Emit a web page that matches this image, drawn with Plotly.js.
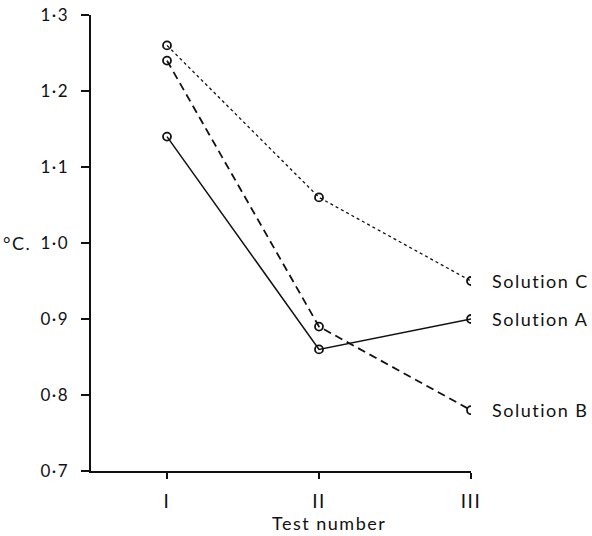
<!DOCTYPE html>
<html>
<head>
<meta charset="utf-8">
<script src="https://cdn.plot.ly/plotly-3.0.1.min.js"></script>
<style>
html,body{margin:0;padding:0;background:#fff;}
#chart{width:592px;height:536px;}
svg text{letter-spacing:1.5px;}
</style>
</head>
<body>
<div id="chart"></div>
<script>
const tests = [0, 1, 2];
const testLabels = ["I", "II", "III"];
const solutionA = [1.14, 0.86, 0.90];
const solutionB = [1.24, 0.89, 0.78];
const solutionC = [1.26, 1.06, 0.95];
const seriesNames = ["Solution A", "Solution B", "Solution C"];
const yTickVals = [0.7, 0.8, 0.9, 1.0, 1.1, 1.2, 1.3];
const yTickText = ["0·7", "0·8", "0·9", "1·0", "1·1", "1·2", "1·3"];
const xTitle = "Test number";
const yTitle = "°C.";

const FONT = "Lato, 'Open Sans', sans-serif";
const mk = {symbol: "circle-open", size: 8, color: "#111", line: {width: 1.8, color: "#111"}};

const traces = [
  {x: tests, y: solutionA, name: seriesNames[0], mode: "lines+markers", line: {color: "#111", width: 1.5, dash: "solid"}, marker: mk},
  {x: tests, y: solutionB, name: seriesNames[1], mode: "lines+markers", line: {color: "#111", width: 1.8, dash: "8px,5px"}, marker: mk},
  {x: tests, y: solutionC, name: seriesNames[2], mode: "lines+markers", line: {color: "#111", width: 1.3, dash: "dot"}, marker: mk}
];

const series = [solutionA, solutionB, solutionC];
const annotations = series.map((s, i) => ({
  x: tests[tests.length - 1], y: s[s.length - 1], xref: "x", yref: "y",
  text: seriesNames[i], showarrow: false, xanchor: "left", xshift: 19,
  font: {family: FONT, size: 18, color: "#111"}
}));
annotations.push({
  x: 0, y: 1.0, xref: "paper", yref: "y", text: yTitle, showarrow: false,
  xanchor: "right", xshift: -58, font: {family: FONT, size: 18, color: "#111"}
});
annotations.push({
  x: 0.626, y: -0.115, xref: "paper", yref: "paper", text: xTitle, showarrow: false,
  xanchor: "center", yanchor: "middle", borderpad: 0, font: {family: FONT, size: 18, color: "#111"}
});

const layout = {
  width: 592, height: 536,
  margin: {l: 91, r: 121, t: 15, b: 65},
  paper_bgcolor: "#fff", plot_bgcolor: "#fff",
  showlegend: false,
  font: {family: FONT, size: 18, color: "#111"},
  xaxis: {
    range: [-0.5, 2], tickvals: tests, ticktext: testLabels,
    showgrid: false, zeroline: false, showline: true, linecolor: "#111", linewidth: 2,
    ticks: "outside", ticklen: 6, tickwidth: 1.5, tickcolor: "#111",
    ticklabelstandoff: 6,
    tickfont: {family: FONT, size: 19, color: "#111"}
  },
  yaxis: {
    range: [0.7, 1.3], tickvals: yTickVals, ticktext: yTickText,
    showgrid: false, zeroline: false, showline: true, linecolor: "#111", linewidth: 2.5,
    ticks: "outside", ticklen: 8, tickwidth: 1.5, tickcolor: "#111",
    ticklabelstandoff: 8,
    tickfont: {family: FONT, size: 17, color: "#111"}
  },
  annotations: annotations
};

Plotly.newPlot("chart", traces, layout, {displayModeBar: false, staticPlot: true});
</script>
</body>
</html>
